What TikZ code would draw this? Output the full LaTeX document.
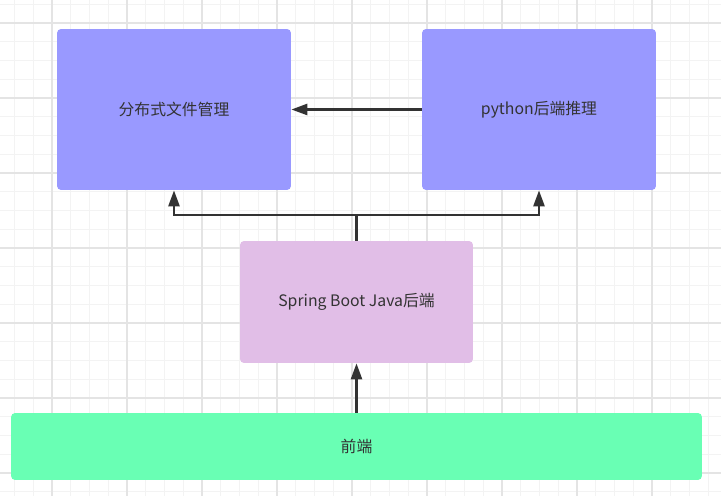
\documentclass[tikz,border=0pt]{standalone}
\usepackage{fontspec}
\setmainfont{Noto Sans CJK SC}
\usetikzlibrary{arrows.meta}
\definecolor{boxblue}{HTML}{9999FF}
\definecolor{boxpink}{HTML}{E1BEE7}
\definecolor{boxgreen}{HTML}{69FFB4}
\definecolor{inkgray}{HTML}{333333}
\definecolor{gridminor}{HTML}{F3F3F3}
\definecolor{gridmajor}{HTML}{E4E4E4}
\begin{document}
\begin{tikzpicture}[x=0.02cm,y=-0.02cm,
  box/.style={rounded corners=0.08cm, inner sep=0pt, text=inkgray,
    font=\fontsize{9pt}{11pt}\selectfont},
  arr/.style={draw=inkgray, line width=1.4pt,
    -{Triangle[length=0.32cm,width=0.22cm]}}]
\useasboundingbox (0,0) rectangle (721,496);

% grid
\foreach \i in {0,...,38}
  \draw[gridminor, line width=0.5pt] ({14.5+18.75*\i},0) -- ({14.5+18.75*\i},496);
\foreach \i in {0,...,26}
  \draw[gridminor, line width=0.5pt] (0,{4.25+18.75*\i}) -- (721,{4.25+18.75*\i});
\foreach \i in {0,...,9}
  \draw[gridmajor, line width=0.6pt] ({52+75*\i},0) -- ({52+75*\i},496);
\foreach \i in {0,...,6}
  \draw[gridmajor, line width=0.6pt] (0,{23+75*\i}) -- (721,{23+75*\i});

% boxes
\node[box, fill=boxblue, minimum width=4.68cm, minimum height=3.22cm] (dfs) at (174,109.5) {分布式文件管理};
\node[box, fill=boxblue, minimum width=4.68cm, minimum height=3.22cm] (py) at (539,109.5) {python后端推理};
\node[box, fill=boxpink, minimum width=4.66cm, minimum height=2.44cm] (spring) at (356.5,302) {Spring Boot Java后端};
\node[box, fill=boxgreen, minimum width=13.82cm, minimum height=1.34cm] (front) at (356.5,446.5) {前端};

% connectors
\coordinate (split) at (356.5,215);
\draw[draw=inkgray, line width=1.4pt] (spring.north) -- (split);
\draw[arr] (split) -| (dfs.south);
\draw[arr] (split) -| (py.south);
\draw[arr] (py.west) -- (dfs.east);
\draw[arr] (front.north) -- (spring.south);
\end{tikzpicture}
\end{document}
